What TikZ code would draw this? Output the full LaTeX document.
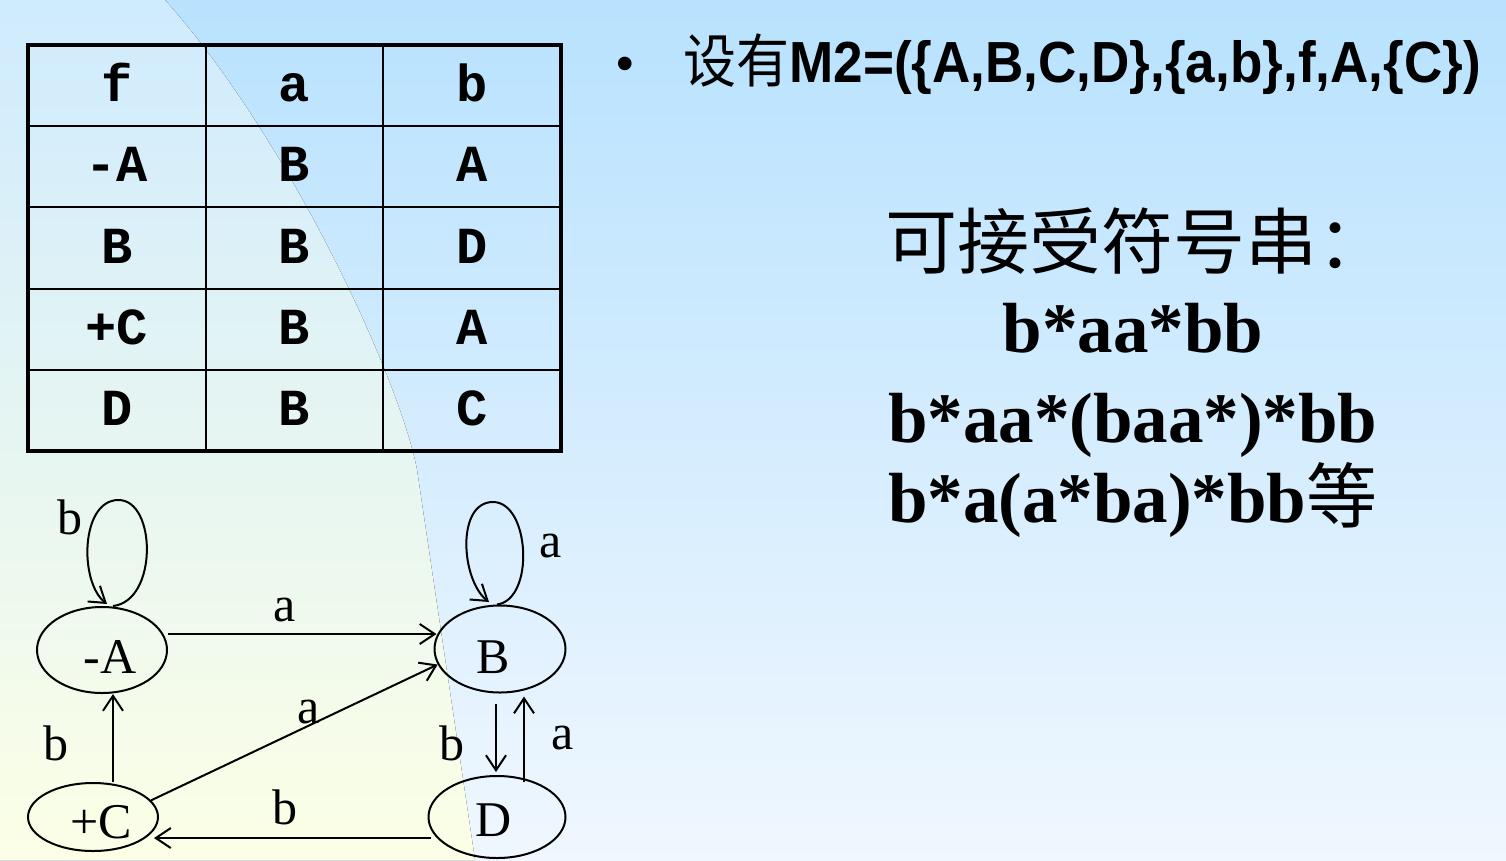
\documentclass[tikz,border=0pt]{standalone}
\usepackage{graphicx}
\usepackage{fontspec}
\setmainfont{Liberation Serif}
\newfontfamily\headfont{Liberation Sans}
\newfontfamily\tabfont{Liberation Mono}
\newfontfamily\cjkfont{Noto Sans CJK SC}
\usetikzlibrary{shapes.geometric,arrows.meta}

\definecolor{bgtop}{HTML}{B8E2FE}
\definecolor{bgbot}{HTML}{F0F7FE}
\definecolor{lefttop}{HTML}{CFEBFE}
\definecolor{leftbot}{HTML}{FCFFE6}

\newcommand{\squeeze}[1]{\scalebox{0.915}[1]{#1}}

\tikzset{
	state/.style={draw, ellipse, line width=2pt, inner sep=0pt},
	statetext/.style={inner sep=0pt, font=\fontsize{50}{50}\selectfont},
	trans/.style={line width=2pt, -{Straight Barb[length=15pt,width=20pt,line width=2pt]}},
	lbl/.style={inner sep=0pt, font=\fontsize{50}{50}\selectfont},
	cell/.style={anchor=base, inner sep=0pt, font=\tabfont\bfseries\fontsize{52}{52}\selectfont},
	strline/.style={inner sep=0pt, font=\bfseries\fontsize{71}{71}\selectfont}
}

\begin{document}
\begin{tikzpicture}[x=1pt,y=-1pt]
				\useasboundingbox (0,0) rectangle (1506,860);
				% background
				\fill[top color=bgtop, bottom color=bgbot] (0,0) rectangle (1506,860);
				\fill[top color=lefttop, bottom color=leftbot] (0,0) -- (165,0) .. controls (290,140) and (400,380) .. (417,470) -- (475,860) -- (0,860) -- cycle;
				
				% transition table
				\draw[line width=2pt] (206,45) -- (206,451) (383,45) -- (383,451);
				\foreach \y in {126,207,289,370}
					\draw[line width=2pt] (28,\y) -- (561,\y);
				\draw[line width=3.5pt] (28,45) rectangle (561,451);
				
				\foreach \r/\y/\p/\q/\s in {0/101/f/a/b, 1/181/-A/B/A, 2/263/B/B/D, 3/344/+C/B/A, 4/425/D/B/C} {
					\node[cell] (t\r0) at (117,\y) {\p};
					\node[cell] (t\r1) at (294,\y) {\q};
					\node[cell] (t\r2) at (472,\y) {\s};
				}
				
				% automaton
				\node[state, minimum width=130pt, minimum height=86pt] (A) at (102,650) {};
				\node[state, minimum width=131pt, minimum height=87pt] (B) at (500,649) {};
				\node[state, minimum width=130pt, minimum height=68pt] (C) at (93,817) {};
				\node[state, minimum width=137pt, minimum height=82pt] (D) at (497,817) {};
				\node[statetext] (At) at (110,657) {-A};
				\node[statetext] (Bt) at (493,657) {B};
				\node[statetext] (Ct) at (101,822) {+C};
				\node[statetext] (Dt) at (494,820) {D};
				
				\draw[trans] ([xshift=11pt]A.north) .. controls +(45,-5) and +(38,0) .. ++(5.5,-106)
					.. controls +(-38,0) and +(-28,-22) .. ++(-11.5,104);
				\draw[trans] ([xshift=-3pt]B.north) .. controls +(38,-5) and +(37,0) .. ++(-4,-102.5)
					.. controls +(-37,0) and +(-28,-22) .. ++(-4,100);
				\draw[trans] ([yshift=16pt]A.east) -- ([yshift=15pt,xshift=3pt]B.west);
				\draw[trans] (C.16) -- (B.194);
				\draw[trans] ([xshift=20pt]C.north) -- ([xshift=11pt]A.south);
				\draw[trans] ([xshift=-4pt,yshift=-10pt]B.south) -- ([xshift=-1pt,yshift=3pt]D.north);
				\draw[trans] ([xshift=27pt,yshift=-7pt]D.north) -- ([xshift=24pt,yshift=-3pt]B.south);
				\draw[trans] ([xshift=3pt,yshift=-21pt]D.west) -- ([xshift=-5pt,yshift=-21pt]C.east);
				
				\node[lbl] (lA) at (70,517) {b};
				\node[lbl] (lB) at (551,546) {a};
				\node[lbl] (lAB) at (285,610) {a};
				\node[lbl] (lCB) at (309,712) {a};
				\node[lbl] (lCA) at (56,743) {b};
				\node[lbl] (lBD) at (452,743) {b};
				\node[lbl] (lDB) at (563,738) {a};
				\node[lbl] (lDC) at (285,807) {b};
				
				% text on the right
				\node[anchor=base, inner sep=0pt, font=\headfont\fontsize{50}{50}\selectfont] (bullet) at (625,80) {•};
				\node[anchor=base west, inner sep=0pt, font=\fontsize{58}{58}\selectfont] (head) at (683,82)
					{\squeeze{\cjkfont 设有}\squeeze{\headfont\bfseries M2=(\{A,B,C,D\},\{a,b\},f,A,\{C\})}};
				\node[anchor=base west, inner sep=0pt, font=\cjkfont\fontsize{72}{72}\selectfont] (accept) at (885,268) {可接受符号串：};
				\node[strline, anchor=base] (s1) at (1133,352) {b*aa*bb};
				\node[strline, anchor=base west] (s2) at (888,442) {b*aa*(baa*)*bb};
				\node[strline, anchor=base west] (s3) at (888,522) {b*a(a*ba)*bb{\cjkfont\mdseries 等}};
			\end{tikzpicture}
\end{document}
